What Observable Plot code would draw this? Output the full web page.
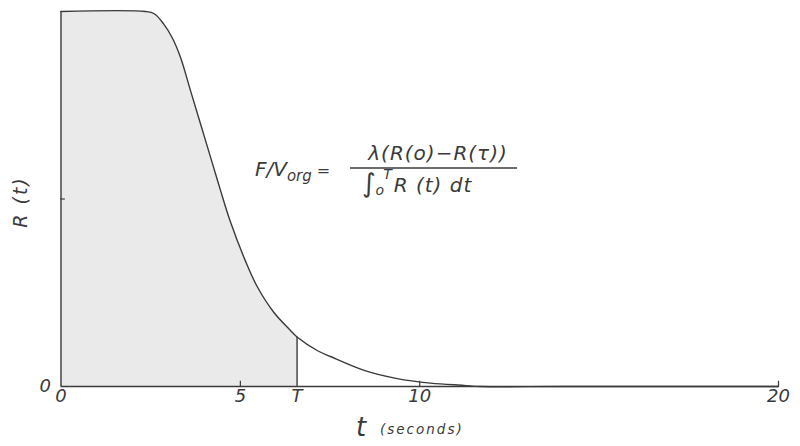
<!DOCTYPE html>
<html>
<head>
<meta charset="utf-8">
<script src="https://cdn.jsdelivr.net/npm/d3@7"></script>
<script src="https://cdn.jsdelivr.net/npm/@observablehq/plot@0.6"></script>
<style>
  html, body { margin: 0; padding: 0; background: #fff; }
  #chart svg { display: block; }
  #chart svg g[aria-label$="tick label"] text { font-size: 18px !important; }
</style>
</head>
<body>
<div id="chart"></div>
<script>
// Curve R(t) (R normalised to R(0) = 1)
const tValues = [0, 2.35, 2.6, 2.86, 3.1, 3.33, 3.61, 3.89, 4.17, 4.44, 4.72, 5.14, 5.46, 5.93, 6.39, 6.58, 7.14, 7.51, 8.45, 9.37, 10.3, 11.23, 11.7, 14, 20];
const rValues = [1, 1, 0.994, 0.967, 0.93, 0.878, 0.789, 0.70, 0.611, 0.525, 0.44, 0.335, 0.268, 0.198, 0.15, 0.132, 0.096, 0.08, 0.043, 0.021, 0.009, 0.003, 0, 0, 0];
const T = 6.58;
const xTickValues = [0, 5, T, 10, 20];
const xTickMarks = [5, 10, 20];
const yTickValues = [0];
const yTickMarks = [0.5];

const curve = tValues.map((t, i) => ({t, r: rValues[i]}));
const shaded = curve.filter(d => d.t <= T);
const rAtT = rValues[tValues.indexOf(T)];

const ink = "#3a3a3a";
const font = "'DejaVu Sans', sans-serif";

const plot = Plot.plot({
  width: 800,
  height: 446,
  marginLeft: 60.5,
  marginRight: 22,
  marginTop: 11,
  marginBottom: 60,
  style: {fontFamily: font, fontSize: "16px", fontStyle: "italic", color: ink, background: "#fff"},
  x: {domain: [0, 20]},
  y: {domain: [0, 1]},
  marks: [
    Plot.areaY(shaded, {x: "t", y: "r", curve: "catmull-rom", fill: "#eaeaea"}),
    Plot.ruleX([0], {y1: 0, y2: 1, stroke: ink, strokeWidth: 1.4}),
    Plot.ruleY([0], {x1: 0, x2: 20, stroke: ink, strokeWidth: 1.4}),
    Plot.ruleX(xTickMarks, {y1: 0, y2: 0.014, stroke: ink, strokeWidth: 1.2}),
    Plot.ruleY(yTickMarks, {x1: 0, x2: 0.12, stroke: ink, strokeWidth: 1.2}),
    Plot.ruleX([T], {y1: 0, y2: rAtT, stroke: ink, strokeWidth: 1.4}),
    Plot.line(curve, {x: "t", y: "r", curve: "catmull-rom", stroke: ink, strokeWidth: 1.4}),
    Plot.axisX({ticks: xTickValues, tickFormat: d => d === T ? "T" : String(d), tickSize: 0, tickPadding: 3, label: null}),
    Plot.axisY({ticks: yTickValues, tickFormat: d => String(d), tickSize: 0, tickPadding: 10, label: null})
  ]
});

document.getElementById("chart").appendChild(plot);

const svg = d3.select(plot);

const g = svg.append("g")
  .attr("fill", ink)
  .attr("font-family", font)
  .attr("font-style", "italic")
  .attr("text-anchor", "start");

// Y axis label
g.append("text")
  .attr("transform", "translate(27,202) rotate(-90)")
  .attr("text-anchor", "middle")
  .attr("font-size", 19)
  .attr("letter-spacing", 2)
  .text("R (t)");

// X axis label
g.append("text")
  .attr("x", 356)
  .attr("y", 436)
  .attr("font-size", 26)
  .text("t");
g.append("text")
  .attr("x", 380)
  .attr("y", 434)
  .attr("font-size", 13.5)
  .attr("letter-spacing", 2)
  .text("(seconds)");

// Formula
const lhs = g.append("text")
  .attr("x", 255)
  .attr("y", 176)
  .attr("font-size", 20);
lhs.append("tspan").text("F/V");
lhs.append("tspan").attr("font-size", 15).attr("dy", 5).text("org");
lhs.append("tspan").attr("dy", -5).attr("font-size", 16).attr("dx", 5).text("=");

g.append("text")
  .attr("x", 438)
  .attr("y", 160)
  .attr("text-anchor", "middle")
  .attr("font-size", 20)
  .attr("letter-spacing", 1)
  .text("λ(R(o)−R(τ))");

g.append("line")
  .attr("x1", 350).attr("x2", 517)
  .attr("y1", 168).attr("y2", 168)
  .attr("stroke", ink)
  .attr("stroke-width", 1.5);

const den = g.append("text")
  .attr("x", 362)
  .attr("y", 192)
  .attr("font-size", 26);
den.append("tspan").text("∫");
den.append("tspan").attr("font-size", 14).attr("dy", 3).text("o");
den.append("tspan").attr("font-size", 14).attr("dy", -16).attr("dx", -1).text("T");
den.append("tspan").attr("font-size", 20).attr("dy", 13).attr("dx", 2).attr("letter-spacing", 1).text("R (t) dt");
</script>
</body>
</html>
